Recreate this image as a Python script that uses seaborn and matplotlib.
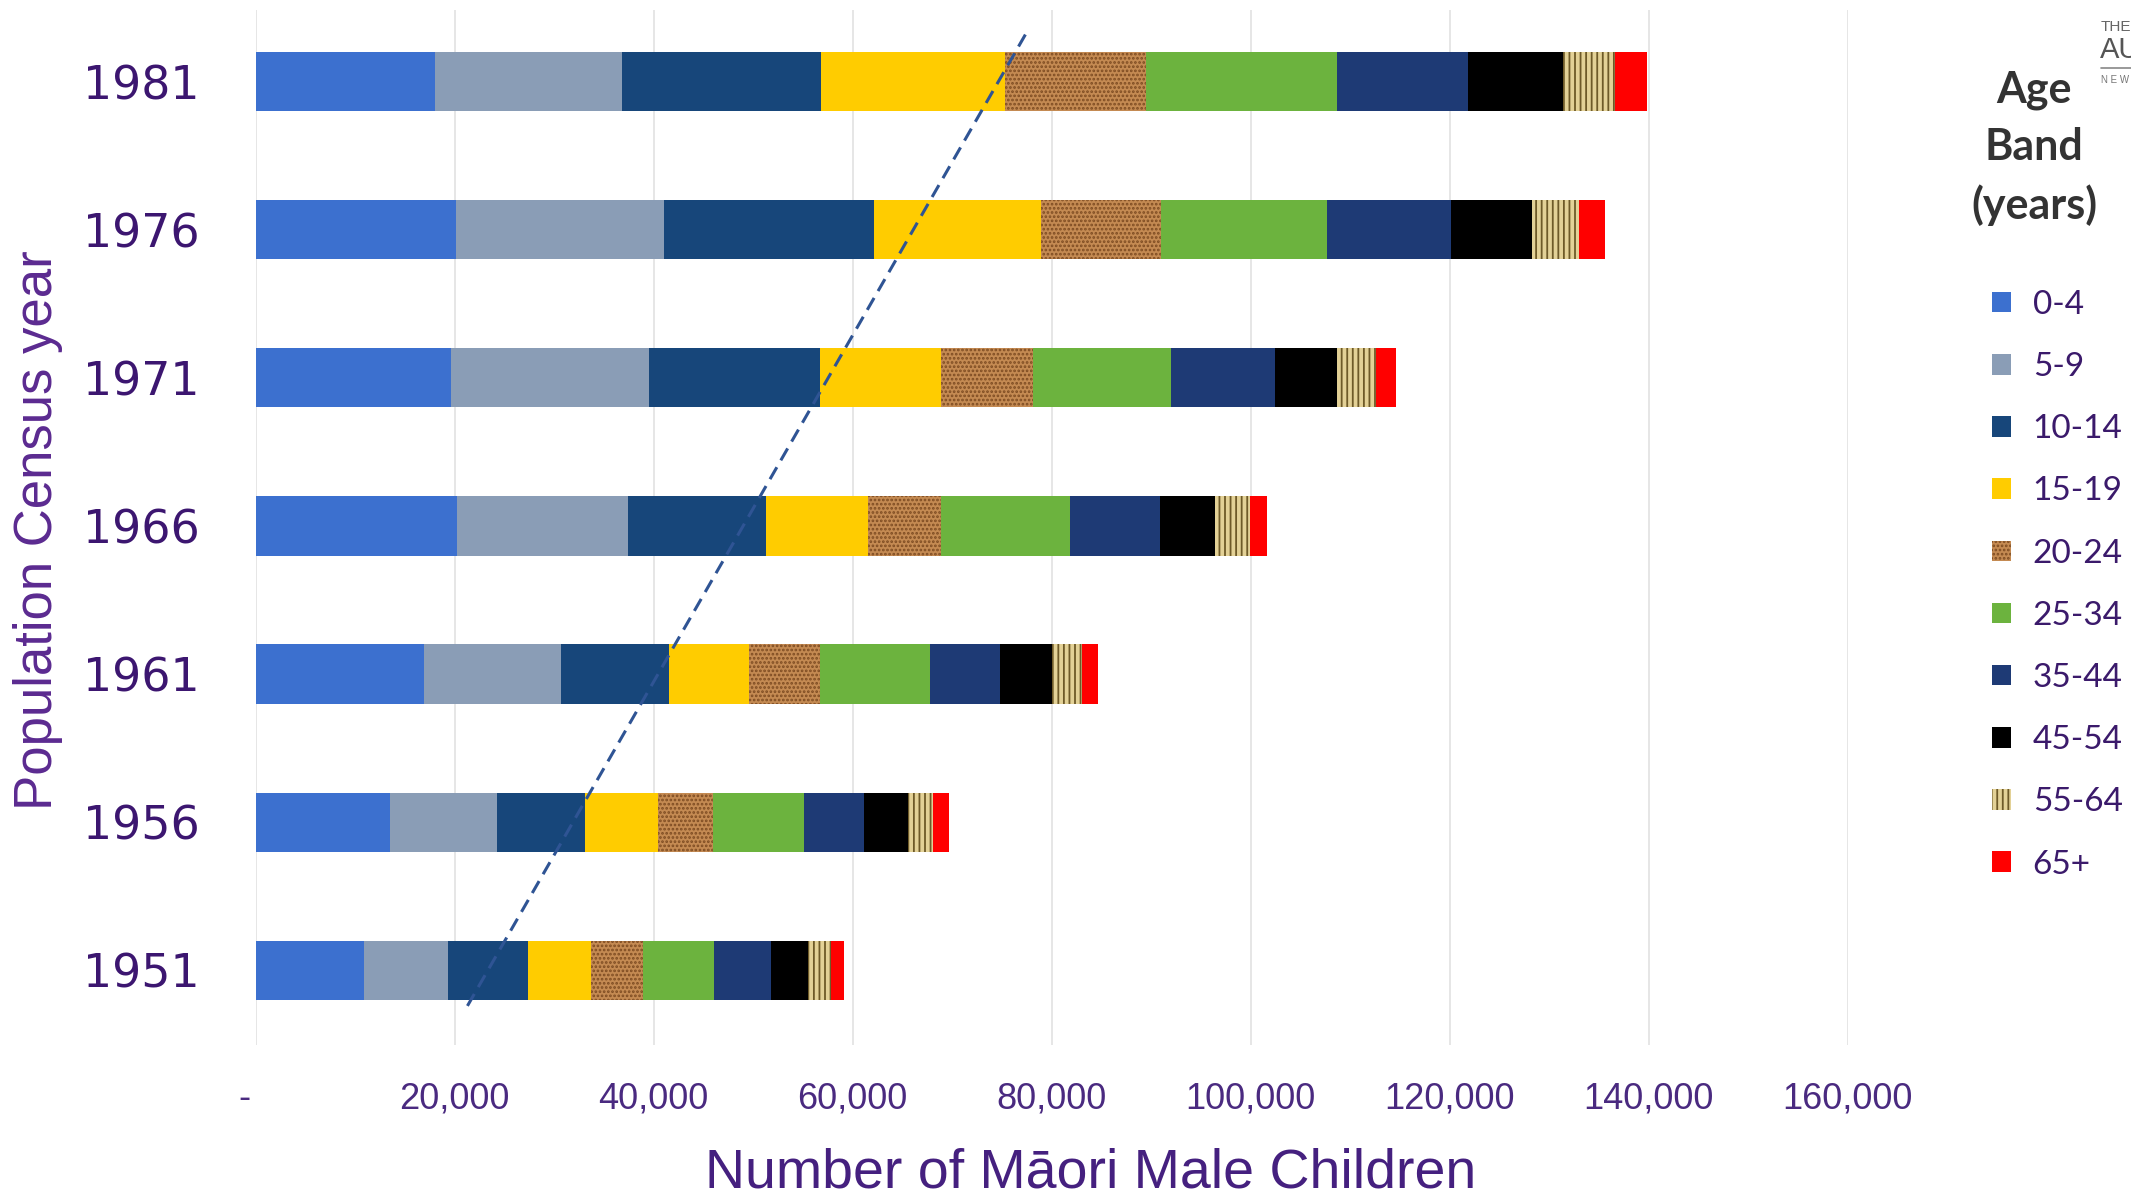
import matplotlib
matplotlib.use("Agg")
import matplotlib.pyplot as plt
import seaborn as sns
import pandas as pd
from matplotlib.patches import Patch

# ---------------- data ----------------
years = ["1951", "1956", "1961", "1966", "1971", "1976", "1981"]
bands = ["0-4", "5-9", "10-14", "15-19", "20-24", "25-34", "35-44", "45-54", "55-64", "65+"]

age_0_4 = [10900, 13500, 16900, 20300, 19600, 20200, 18000]
age_5_9 = [8400, 10800, 13800, 17100, 19900, 20900, 18800]
age_10_14 = [8100, 8800, 10900, 13900, 17200, 21100, 20000]
age_15_19 = [6300, 7400, 8000, 10300, 12200, 16700, 18500]
age_20_24 = [5200, 5500, 7100, 7300, 9200, 12100, 14200]
age_25_34 = [7200, 9100, 11100, 13000, 13900, 16700, 19200]
age_35_44 = [5700, 6100, 7000, 9000, 10500, 12500, 13200]
age_45_54 = [3700, 4400, 5300, 5500, 6200, 8100, 9500]
age_55_64 = [2300, 2500, 3000, 3500, 3900, 4700, 5200]
age_65_plus = [1300, 1600, 1600, 1800, 2000, 2600, 3200]

x_ticks = [0, 20000, 40000, 60000, 80000, 100000, 120000, 140000, 160000]
x_tick_labels = ["-  ", "20,000", "40,000", "60,000", "80,000", "100,000",
                 "120,000", "140,000", "160,000"]

# dashed trend line (x value, category position; 1981 = 0 ... 1951 = 6)
trend_x = [21300, 77400]
trend_y = [6.24, -0.32]

# ---------------- styles ----------------
band_values = [age_0_4, age_5_9, age_10_14, age_15_19, age_20_24,
               age_25_34, age_35_44, age_45_54, age_55_64, age_65_plus]
face = {"0-4": "#3C70CF", "5-9": "#8A9DB6", "10-14": "#17467A", "15-19": "#FFCC00",
        "20-24": "#C48A52", "25-34": "#6CB33E", "35-44": "#1E3A75", "45-54": "#000000",
        "55-64": "#E3D196", "65+": "#FF0000"}
hatch = {"20-24": "....", "55-64": "|||"}
hatch_col = {"20-24": "#7E4C22", "55-64": "#6E5A28"}

W, H = 2131, 1201
sns.set_theme(style="white")
plt.rcParams["font.family"] = ["DejaVu Sans"]
plt.rcParams["hatch.linewidth"] = 1.3

fig = plt.figure(figsize=(W / 100, H / 100), dpi=100)
ax_left, ax_right, ax_top, ax_bottom = 255.5, 1847.5, 10, 1045
ax = fig.add_axes([ax_left / W, 1 - ax_bottom / H, (ax_right - ax_left) / W,
                   (ax_bottom - ax_top) / H])

df = pd.DataFrame({"year": years})
for b, v in zip(bands, band_values):
    df[b] = v
cum = df[bands].cumsum(axis=1)
order = years[::-1]

for b in reversed(bands):
    d = pd.DataFrame({"year": years, "total": cum[b]})
    sns.barplot(data=d, x="total", y="year", order=order, orient="h",
                color=face[b], saturation=1, width=0.4, errorbar=None, ax=ax,
                hatch=hatch.get(b, None), edgecolor=hatch_col.get(b, face[b]),
                linewidth=0, zorder=2)

ax.plot(trend_x, trend_y, color="#2F5494", lw=2.2, dashes=(4.5, 2.6), zorder=5)

ax.set_xlim(0, 160000)
ax.set_ylim(6.504, -0.483)
ax.set_xticks(x_ticks)
ax.set_xticklabels(x_tick_labels)
ax.grid(axis="x", color="#E2E2E2", lw=1.2, zorder=0)
ax.grid(axis="y", visible=False)
ax.set_axisbelow(True)
for s in ax.spines.values():
    s.set_visible(False)

narrow = ["Liberation Sans", "DejaVu Sans"]
ax.tick_params(axis="x", length=0, pad=26, labelsize=26, labelcolor="#4A2A80")
for t in ax.get_xticklabels():
    t.set_family(narrow)
ax.tick_params(axis="y", length=0, pad=40, labelsize=33, labelcolor="#3C1670")

ax.set_xlabel("Number of Māori Male Children", fontsize=40, color="#45207F",
              family=narrow)
ax.xaxis.set_label_coords((1091 - ax_left) / (ax_right - ax_left),
                          (ax_bottom - 1173) / (ax_bottom - ax_top))
ax.xaxis.label.set_verticalalignment("center")

ax.set_ylabel("Population Census year", fontsize=38, color="#5B2A90", family=narrow)
ax.yaxis.set_label_coords((38 - ax_left) / (ax_right - ax_left),
                          (ax_bottom - 530) / (ax_bottom - ax_top))
ax.yaxis.label.set_verticalalignment("center")

# legend
handles = [Patch(facecolor=face[b], edgecolor=hatch_col.get(b, face[b]),
                 hatch=hatch.get(b, None), lw=0, label=b) for b in bands]
leg = ax.legend(handles=handles, loc="upper left",
                bbox_to_anchor=(1992 / W, 1 - 290 / H), bbox_transform=fig.transFigure,
                frameon=False, borderpad=0, borderaxespad=0,
                handlelength=0.57, handleheight=0.57, handletextpad=0.65,
                labelspacing=0.965, prop={"family": "Lato", "size": 24},
                labelcolor="#3B1A6B")
fig.text(2034 / W, 1 - 148 / H, "Age\nBand\n(years)", ha="center", va="center",
         fontsize=31, fontweight="bold", family="Lato", color="#333333",
         linespacing=1.5)

# partial logo at the top right corner
fig.text(2101 / W, 1 - 27 / H, "THE", fontsize=11, color="#666666", va="center",
         ha="left", family="Liberation Sans")
fig.text(2100 / W, 1 - 50 / H, "AU", fontsize=21, color="#555555", va="center",
         ha="left", family="Liberation Sans")
fig.add_artist(plt.Line2D([2101 / W, 1.0], [1 - 68 / H, 1 - 68 / H],
                          color="#888888", lw=1.2, transform=fig.transFigure))
fig.text(2101 / W, 1 - 80 / H, "N E W", fontsize=7, color="#777777", va="center",
         ha="left", family="Liberation Sans")

fig.savefig("out.png", dpi=100)
